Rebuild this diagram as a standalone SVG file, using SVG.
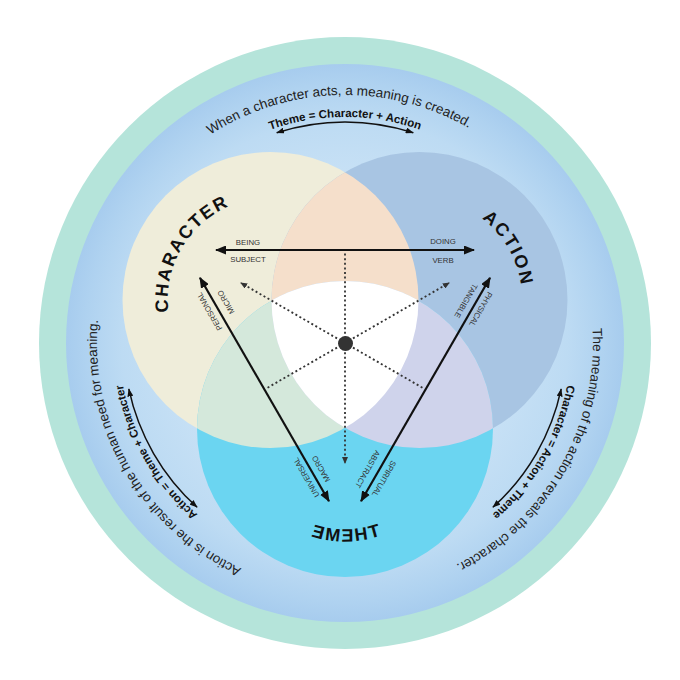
<svg xmlns="http://www.w3.org/2000/svg" width="680" height="680" viewBox="0 0 680 680">
<style>
text{font-family:"Liberation Sans",Arial,sans-serif}
.outer{font-size:13.5px;fill:#222}
.formula{font-size:11.5px;font-weight:bold;fill:#111}
.big{font-size:18px;font-weight:bold;letter-spacing:2px;fill:#111}
.lbl{font-size:7.8px;fill:#333;text-anchor:middle}
.arrow{stroke:#111;stroke-width:2.2;fill:none;marker-start:url(#ah);marker-end:url(#ah)}
.curve{stroke:#111;stroke-width:1.5;fill:none;marker-start:url(#ahs);marker-end:url(#ahs)}
.dot{stroke:#333;stroke-width:1.8;stroke-dasharray:2 2.6;fill:none}
</style>
<defs>
<radialGradient id="ring" gradientUnits="userSpaceOnUse" cx="345" cy="343" r="279">
<stop offset="0" stop-color="#c9e2f6"/>
<stop offset="0.62" stop-color="#c6e0f5"/>
<stop offset="0.8" stop-color="#bddbf3"/>
<stop offset="0.93" stop-color="#afd2f0"/>
<stop offset="1" stop-color="#a7ccee"/>
</radialGradient>
<clipPath id="clipChar"><circle cx="270.5" cy="300" r="148"/></clipPath>
<clipPath id="clipAction"><circle cx="419.5" cy="300" r="148"/></clipPath>
<marker id="ah" markerWidth="11" markerHeight="9" refX="10" refY="4.5" orient="auto-start-reverse" markerUnits="userSpaceOnUse"><path d="M0,0 L11,4.5 L0,9 z" fill="#111"/></marker>
<marker id="ahs" markerWidth="8" markerHeight="6" refX="7.5" refY="3" orient="auto-start-reverse" markerUnits="userSpaceOnUse"><path d="M0,0 L8,3 L0,6 z" fill="#111"/></marker>
<marker id="ahd" markerWidth="7" markerHeight="6" refX="6" refY="3" orient="auto" markerUnits="userSpaceOnUse"><path d="M0,0 L7,3 L0,6 z" fill="#333"/></marker>
<path id="outerArc" d="M97 343 A248 248 0 0 1 593 343"/>
<path id="formulaArc" d="M119 343 A226 226 0 0 1 571 343"/>
<path id="charArc" d="M219 389.2 A103 103 0 0 1 322 210.8"/>
<path id="actionArc" d="M368 210.8 A103 103 0 0 1 471 389.2"/>
<path id="themeArc" d="M232.5 429 A112.5 112.5 0 0 0 457.5 429"/>
</defs>
<rect width="680" height="680" fill="#ffffff"/>
<circle cx="345" cy="343" r="306" fill="#b5e4da"/>
<circle cx="345" cy="343" r="279" fill="url(#ring)"/>

<g id="character">
<circle cx="270.5" cy="300" r="148" fill="#efedda"/>
<text class="big"><textPath href="#charArc" startOffset="50%" text-anchor="middle">CHARACTER</textPath></text>
</g>
<g id="action">
<circle cx="419.5" cy="300" r="148" fill="#a8c5e3"/>
<text class="big"><textPath href="#actionArc" startOffset="50%" text-anchor="middle">ACTION</textPath></text>
</g>
<g id="theme">
<circle cx="345" cy="429" r="148" fill="#6bd5f1"/>
<g transform="translate(690 0) scale(-1 1)"><text class="big"><textPath href="#themeArc" startOffset="50%" text-anchor="middle">THEME</textPath></text></g>
</g>
<g id="overlaps">
<g clip-path="url(#clipChar)"><circle cx="419.5" cy="300" r="148" fill="#f5dfcb"/></g>
<g clip-path="url(#clipChar)"><circle cx="345" cy="429" r="148" fill="#d4e8db"/></g>
<g clip-path="url(#clipAction)"><circle cx="345" cy="429" r="148" fill="#cfd3eb"/></g>
<g clip-path="url(#clipAction)"><g clip-path="url(#clipChar)"><circle cx="345" cy="429" r="148" fill="#ffffff"/></g></g>
</g>

<g id="outer-texts">
<g id="top-note">
<text class="outer" transform="rotate(-1.5 345 343)"><textPath href="#outerArc" startOffset="50%" text-anchor="middle">When a character acts, a meaning is created.</textPath></text>
<text class="formula"><textPath href="#formulaArc" startOffset="50%" text-anchor="middle">Theme = Character + Action</textPath></text>
</g>
<g id="right-note" transform="rotate(120 345 343)">
<text class="outer"><textPath href="#outerArc" startOffset="50%" text-anchor="middle">The meaning of the action reveals the character.</textPath></text>
<text class="formula"><textPath href="#formulaArc" startOffset="50%" text-anchor="middle">Character = Action + Theme</textPath></text>
</g>
<g id="left-note" transform="rotate(240 345 343)">
<text class="outer"><textPath href="#outerArc" startOffset="50%" text-anchor="middle">Action is the result of the human need for meaning.</textPath></text>
<text class="formula"><textPath href="#formulaArc" startOffset="50%" text-anchor="middle">Action = Theme + Character</textPath></text>
</g>
</g>

<g id="connectors">
<g>
<path class="curve" d="M276.7 132.8 A221 221 0 0 1 413.3 132.8"/>
<path class="curve" d="M276.7 132.8 A221 221 0 0 1 413.3 132.8" transform="rotate(120 345 343)"/>
<path class="curve" d="M276.7 132.8 A221 221 0 0 1 413.3 132.8" transform="rotate(240 345 343)"/>
</g>
<g>
<line class="dot" x1="345" y1="343" x2="345" y2="253"/>
<line class="dot" x1="345" y1="343" x2="345" y2="463" marker-end="url(#ahd)"/>
<g transform="rotate(120 345 343)">
<line class="dot" x1="345" y1="343" x2="345" y2="253"/>
<line class="dot" x1="345" y1="343" x2="345" y2="463" marker-end="url(#ahd)"/>
</g>
<g transform="rotate(240 345 343)">
<line class="dot" x1="345" y1="343" x2="345" y2="253"/>
<line class="dot" x1="345" y1="343" x2="345" y2="463" marker-end="url(#ahd)"/>
</g>
</g>
<g id="being-doing">
<line class="arrow" x1="216" y1="250" x2="474" y2="250"/>
<text class="lbl" x="248" y="245">BEING</text>
<text class="lbl" x="248" y="262">SUBJECT</text>
<text class="lbl" x="443" y="244">DOING</text>
<text class="lbl" x="443" y="263">VERB</text>
</g>
<g id="tangible-abstract" transform="rotate(120 345 343)">
<line class="arrow" x1="216" y1="250" x2="474" y2="250"/>
<text class="lbl" x="248" y="245">PHYSICAL</text>
<text class="lbl" x="248" y="262">TANGIBLE</text>
<text class="lbl" x="443" y="244">SPIRITUAL</text>
<text class="lbl" x="443" y="263">ABSTRACT</text>
</g>
<g id="macro-micro" transform="rotate(240 345 343)">
<line class="arrow" x1="216" y1="250" x2="474" y2="250"/>
<text class="lbl" x="248" y="245">UNIVERSAL</text>
<text class="lbl" x="248" y="262">MACRO</text>
<text class="lbl" x="440" y="244">PERSONAL</text>
<text class="lbl" x="440" y="263">MICRO</text>
</g>
</g>
<g id="center"><circle cx="345.5" cy="343.5" r="7.5" fill="#333"/></g>
</svg>
